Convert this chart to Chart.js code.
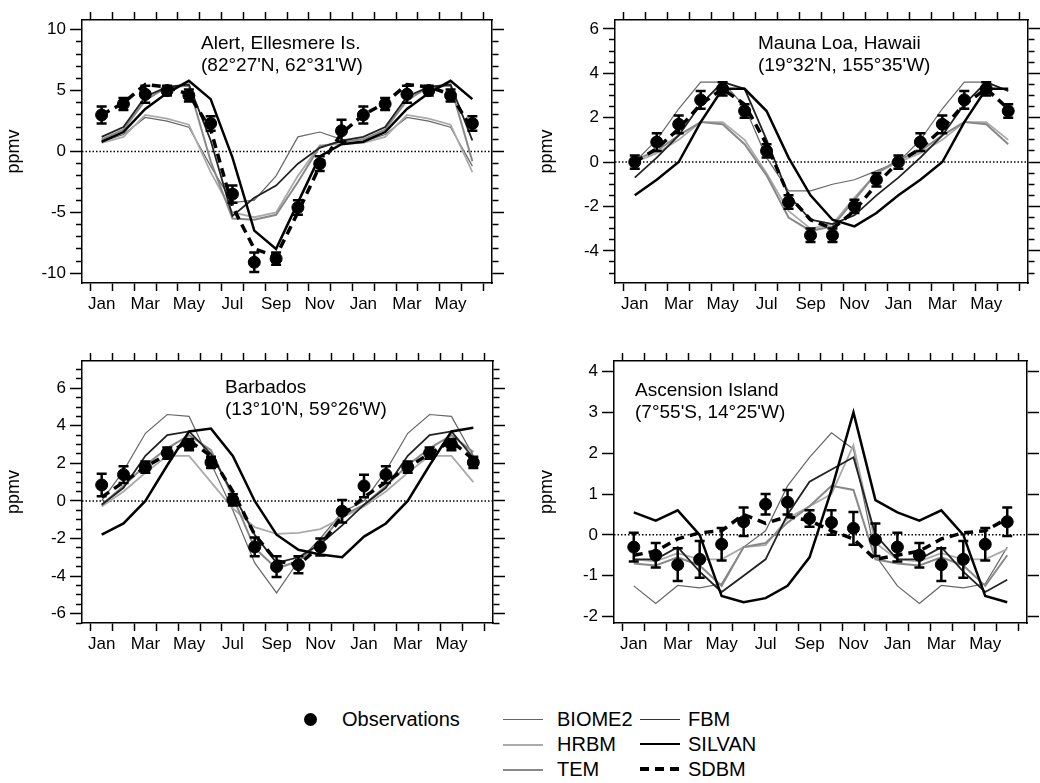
<!DOCTYPE html>
<html>
<head>
<meta charset="utf-8">
<script src="https://cdn.jsdelivr.net/npm/chart.js@4.4.1/dist/chart.umd.min.js"></script>
<style>
  body { margin: 0; width: 1040px; height: 783px; position: relative; overflow: hidden; background: #fff;
         font-family: "Liberation Sans", Arial, Helvetica, sans-serif; color: #000; }
  .panel { position: absolute; width: 520px; height: 320px; }
  .site { position: absolute; font-size: 19px; line-height: 22px; white-space: nowrap; }
  .key { position: absolute; font-size: 20px; line-height: 24px; white-space: nowrap; }
  .swatch { position: absolute; width: 40px; }
  .dot { position: absolute; width: 13px; height: 13px; border-radius: 50%; background: #000; }
</style>
</head>
<body>

<div class="panel" style="left:0;top:0"><canvas id="alert"></canvas></div>
<div class="panel" style="left:520px;top:0"><canvas id="mauna"></canvas></div>
<div class="panel" style="left:0;top:340px"><canvas id="barbados"></canvas></div>
<div class="panel" style="left:520px;top:340px"><canvas id="ascension"></canvas></div>

<div class="site" style="left:201px;top:32px">Alert, Ellesmere Is.<br>(82°27'N, 62°31'W)</div>
<div class="site" style="left:758px;top:32px">Mauna Loa, Hawaii<br>(19°32'N, 155°35'W)</div>
<div class="site" style="left:225px;top:376px">Barbados<br>(13°10'N, 59°26'W)</div>
<div class="site" style="left:635px;top:379px">Ascension Island<br>(7°55'S, 14°25'W)</div>

<!-- legend -->
<div class="dot" style="left:304px;top:713px"></div>
<div class="key" style="left:342px;top:707px">Observations</div>
<div class="swatch" style="left:503px;top:719px;border-top:1.5px solid #666"></div>
<div class="key" style="left:557px;top:707px">BIOME2</div>
<div class="swatch" style="left:503px;top:744px;border-top:2px solid #aaa"></div>
<div class="key" style="left:557px;top:732px">HRBM</div>
<div class="swatch" style="left:503px;top:769px;border-top:2px solid #888"></div>
<div class="key" style="left:557px;top:757px">TEM</div>
<div class="swatch" style="left:640px;top:719px;border-top:1.5px solid #333"></div>
<div class="key" style="left:688px;top:707px">FBM</div>
<div class="swatch" style="left:640px;top:743px;border-top:2.5px solid #000"></div>
<div class="key" style="left:688px;top:732px">SILVAN</div>
<div class="swatch" style="left:640px;top:767px;height:3.5px;background:repeating-linear-gradient(90deg,#000 0 9px,transparent 9px 15px)"></div>
<div class="key" style="left:688px;top:757px">SDBM</div>

<script>
// Seasonal CO2 cycle, 18 months (Jan .. Jun of the following year)
const months = ['Jan', 'Feb', 'Mar', 'Apr', 'May', 'Jun', 'Jul', 'Aug', 'Sep', 'Oct', 'Nov', 'Dec',
                'Jan', 'Feb', 'Mar', 'Apr', 'May', 'Jun'];

// Alert, Ellesmere Is.
const alertObs    = [3.0, 3.9, 4.7, 5.0, 4.6, 2.3, -3.5, -9.1, -8.8, -4.6, -1.0, 1.7, 3.0, 3.9, 4.7, 5.0, 4.6, 2.3];
const alertErr    = [0.7, 0.5, 0.7, 0.4, 0.5, 0.6, 0.7, 0.8, 0.5, 0.6, 0.6, 0.9, 0.7, 0.5, 0.7, 0.4, 0.5, 0.6];
const alertBiome2 = [0.8, 1.4, 2.8, 2.5, 2.0, -1.2, -4.2, -4.0, -2.0, 1.2, 1.6, 1.0, 0.8, 1.4, 2.8, 2.5, 2.0, -1.2];
const alertHrbm   = [0.7, 1.2, 3.0, 2.7, 2.2, -1.7, -5.0, -5.4, -5.0, -2.0, 0.5, 0.6, 0.7, 1.2, 3.0, 2.7, 2.2, -1.7];
const alertTem    = [1.0, 1.8, 4.2, 5.3, 5.4, -0.8, -5.5, -5.6, -5.2, -2.5, 0.4, 0.8, 1.0, 1.8, 4.2, 5.3, 5.4, -0.8];
const alertFbm    = [1.2, 2.0, 4.5, 5.3, 5.5, 0.9, -5.3, -3.8, -2.8, -1.0, 0.3, 0.9, 1.2, 2.0, 4.5, 5.3, 5.5, 0.9];
const alertSilvan = [0.8, 1.6, 3.5, 4.8, 5.8, 4.3, -0.5, -6.5, -8.0, -4.2, -0.4, 0.6, 0.8, 1.6, 3.5, 4.8, 5.8, 4.3];
const alertSdbm   = [3.0, 4.0, 5.5, 5.3, 4.7, 1.8, -4.5, -8.0, -8.6, -5.0, -1.2, 1.5, 3.0, 4.0, 5.5, 5.3, 4.7, 1.8];

// Mauna Loa, Hawaii
const maunaObs    = [0.0, 0.9, 1.7, 2.8, 3.3, 2.3, 0.5, -1.8, -3.3, -3.3, -2.0, -0.8, 0.0, 0.9, 1.7, 2.8, 3.3, 2.3];
const maunaErr    = [0.3, 0.4, 0.4, 0.4, 0.3, 0.3, 0.3, 0.3, 0.3, 0.3, 0.3, 0.3, 0.3, 0.4, 0.4, 0.4, 0.3, 0.3];
const maunaBiome2 = [0.0, 1.0, 2.4, 3.6, 3.6, 2.5, 0.2, -1.3, -1.3, -1.0, -0.8, -0.4, 0.0, 1.0, 2.4, 3.6, 3.6, 3.2];
const maunaHrbm   = [0.0, 0.4, 1.0, 1.8, 1.8, 1.0, -0.5, -2.2, -3.0, -2.8, -1.6, -0.5, 0.0, 0.4, 1.0, 1.8, 1.8, 1.0];
const maunaTem    = [0.1, 0.5, 1.2, 1.8, 1.7, 0.8, -0.6, -2.5, -3.1, -2.9, -1.7, -0.5, 0.1, 0.5, 1.2, 1.8, 1.7, 0.8];
const maunaFbm    = [-0.7, 0.2, 1.2, 2.6, 3.6, 3.3, 1.0, -1.5, -2.6, -2.8, -2.4, -1.5, -0.7, 0.2, 1.2, 2.6, 3.6, 3.2];
const maunaSilvan = [-1.5, -0.8, 0.0, 1.8, 3.3, 3.3, 2.3, 0.2, -1.5, -2.6, -2.9, -2.3, -1.5, -0.8, 0.0, 1.8, 3.3, 3.3];
const maunaSdbm   = [0.0, 0.6, 1.5, 2.6, 3.3, 2.6, 0.8, -1.5, -2.6, -3.0, -2.2, -1.0, 0.0, 0.6, 1.5, 2.6, 3.3, 2.4];

// Barbados
const barbObs    = [0.85, 1.4, 1.8, 2.55, 3.0, 2.05, 0.05, -2.45, -3.5, -3.4, -2.45, -0.55, 0.8, 1.4, 1.8, 2.55, 3.0, 2.05];
const barbErr    = [0.6, 0.45, 0.3, 0.3, 0.3, 0.3, 0.3, 0.5, 0.55, 0.45, 0.45, 0.6, 0.6, 0.45, 0.3, 0.3, 0.3, 0.3];
const barbBiome2 = [0.0, 1.6, 3.6, 4.6, 4.5, 2.0, -0.5, -3.3, -4.9, -3.2, -2.0, -0.6, 0.0, 1.6, 3.6, 4.6, 4.5, 2.4];
const barbHrbm   = [-0.3, 0.5, 1.5, 2.4, 2.4, 1.0, -0.4, -1.4, -1.75, -1.7, -1.5, -0.9, -0.3, 0.5, 1.5, 2.4, 2.4, 1.0];
const barbTem    = [-0.2, 0.8, 1.9, 2.8, 3.5, 2.7, 0.2, -2.5, -3.6, -3.2, -2.2, -0.8, -0.2, 0.8, 1.9, 2.8, 3.5, 2.6];
const barbFbm    = [-0.2, 0.7, 2.4, 3.5, 3.7, 2.5, 0.4, -1.8, -3.3, -3.0, -2.3, -1.3, -0.2, 0.7, 2.4, 3.5, 3.7, 2.3];
const barbSilvan = [-1.8, -1.2, 0.0, 1.9, 3.7, 3.85, 2.4, 0.0, -1.8, -2.6, -2.85, -3.0, -1.9, -1.2, 0.0, 1.9, 3.7, 3.9];
const barbSdbm   = [0.2, 1.0, 1.8, 2.5, 3.2, 2.4, 0.5, -1.8, -3.2, -3.4, -2.4, -0.8, 0.2, 1.0, 1.8, 2.5, 3.2, 2.2];

// Ascension Island
const ascObs    = [-0.3, -0.5, -0.73, -0.6, -0.23, 0.32, 0.75, 0.8, 0.4, 0.3, 0.16, -0.12, -0.3, -0.5, -0.73, -0.6, -0.23, 0.32];
const ascErr    = [0.35, 0.3, 0.4, 0.45, 0.4, 0.35, 0.25, 0.3, 0.2, 0.3, 0.4, 0.4, 0.35, 0.3, 0.4, 0.45, 0.4, 0.35];
const ascBiome2 = [-1.25, -1.68, -1.24, -1.3, -1.2, -0.3, 0.1, 1.2, 1.9, 2.5, 2.1, -0.5, -1.25, -1.68, -1.24, -1.3, -1.2, -0.3];
const ascHrbm   = [-0.6, -0.65, -0.45, -0.6, -0.6, -0.3, -0.25, 0.4, 0.7, 1.0, 2.2, -0.2, -0.6, -0.65, -0.45, -0.6, -0.6, -0.35];
const ascTem    = [-0.7, -0.75, -0.55, -0.75, -1.25, -0.3, -0.2, 0.3, 0.7, 1.2, 1.1, -0.6, -0.7, -0.75, -0.55, -0.75, -1.25, -0.5];
const ascFbm    = [-0.6, -0.6, -0.3, -0.9, -1.4, -1.0, -0.6, 0.5, 1.3, 1.6, 1.9, 0.0, -0.6, -0.6, -0.3, -0.9, -1.4, -1.1];
const ascSilvan = [0.55, 0.35, 0.6, 0.0, -1.5, -1.65, -1.55, -1.25, -0.55, 1.1, 3.0, 0.85, 0.55, 0.35, 0.6, 0.0, -1.5, -1.65];
const ascSdbm   = [-0.5, -0.4, -0.1, 0.05, 0.1, 0.5, 0.28, 0.45, 0.35, 0.1, -0.1, -0.6, -0.5, -0.4, -0.1, 0.05, 0.1, 0.4];

const X_MIN = -0.9, X_MAX = 17.9;
const FONT = { family: '"Liberation Sans", Arial, sans-serif', size: 17 };

// error bars for the observations, drawn just before the markers
const errorBars = {
    id: 'errorBars',
    beforeDatasetDraw(chart, args) {
        const ds = chart.data.datasets[args.index];
        if (!ds.errors) return;
        const ctx = chart.ctx, xs = chart.scales.x, ys = chart.scales.y;
        ctx.save();
        ctx.strokeStyle = '#000';
        ctx.lineWidth = 2.5;
        ds.data.forEach(function (p, i) {
            const x = xs.getPixelForValue(p.x);
            const lo = ys.getPixelForValue(p.y - ds.errors[i]);
            const hi = ys.getPixelForValue(p.y + ds.errors[i]);
            ctx.beginPath();
            ctx.moveTo(x, lo); ctx.lineTo(x, hi);
            ctx.moveTo(x - 5, lo); ctx.lineTo(x + 5, lo);
            ctx.moveTo(x - 5, hi); ctx.lineTo(x + 5, hi);
            ctx.stroke();
        });
        ctx.restore();
    }
};

function pts(values) {
    return values.map(function (v, i) { return { x: i, y: v }; });
}

function makePanel(id, p) {
    const xTicks = [];
    for (let v = -0.5; v <= 17.5; v += 0.5) xTicks.push(v);
    const yTicks = [];
    for (let v = Math.ceil(p.yMin / p.step) * p.step; v <= p.yMax + 1e-9; v += p.step) yTicks.push(Math.round(v * 100) / 100);
    const isMajor = v => Math.abs(v / p.major - Math.round(v / p.major)) < 1e-6;

    const xAxis = (pos, size) => ({
        type: 'linear', position: pos, min: X_MIN, max: X_MAX,
        afterBuildTicks: s => { s.ticks = xTicks.map(v => ({ value: v })); },
        afterFit: s => { s.height = size; },
        grid: { drawOnChartArea: false, tickLength: 8, tickWidth: 1.5,
                tickColor: c => Number.isInteger(c.tick.value) ? 'rgba(0,0,0,0)' : '#000' },
        border: { color: '#000', width: 1.5 },
        ticks: { display: pos === 'bottom', autoSkip: false, maxRotation: 0, padding: 3, color: '#000', font: FONT,
                 callback: v => (Number.isInteger(v) && v % 2 === 0) ? months[v] : '' }
    });
    const yAxis = (pos, size) => ({
        type: 'linear', position: pos, min: p.yMin, max: p.yMax,
        afterBuildTicks: s => { s.ticks = yTicks.map(v => ({ value: v })); },
        afterFit: s => { s.width = size; },
        grid: { drawOnChartArea: false, tickLength: 12, tickWidth: 1.5, tickColor: '#000',
                tickBorderDash: c => isMajor(c.tick.value) ? [] : (pos === 'left' ? [0, 6, 6, 40] : [6, 40]) },
        border: { color: '#000', width: 1.5 },
        ticks: { display: pos === 'left', autoSkip: false, padding: 4, color: '#000', font: FONT,
                 callback: v => isMajor(v) ? String(v) : '' },
        title: { display: pos === 'left', text: 'ppmv', color: '#000', font: { family: FONT.family, size: 18 },
                 padding: { top: p.titlePad, bottom: 0 } }
    });

    const line = (label, values, color, width, order, dash) => ({
        type: 'line', label: label, data: pts(values), borderColor: color, borderWidth: width,
        borderDash: dash || [], pointRadius: 0, tension: 0, fill: false, order: order
    });

    const chartData = {
        datasets: [
            { type: 'line', label: 'Observations', data: pts(p.obs), errors: p.err, showLine: false,
              pointRadius: 6, pointBackgroundColor: '#000', pointBorderColor: '#000', order: 0 },
            line('SDBM', p.sdbm, '#000', 3.5, 1, [9, 6]),
            line('SILVAN', p.silvan, '#000', 2.5, 2),
            line('FBM', p.fbm, '#222', 1.8, 3),
            line('TEM', p.tem, '#888', 2, 4),
            line('HRBM', p.hrbm, '#aaa', 1.8, 5),
            line('BIOME2', p.biome2, '#666', 1.2, 6),
            line('zero', [], '#000', 1.5, 7, [1.5, 2])
        ]
    };
    // the zero reference line spans the full x range
    chartData.datasets[7].data = [{ x: X_MIN, y: 0 }, { x: X_MAX, y: 0 }];

    return new Chart(document.getElementById(id), {
        type: 'line',
        data: chartData,
        options: {
            responsive: true,
            maintainAspectRatio: false,
            animation: false,
            layout: { padding: 0 },
            plugins: { legend: { display: false }, tooltip: { enabled: false } },
            scales: {
                x: xAxis('bottom', p.bottomH),
                xTop: xAxis('top', p.topH),
                y: yAxis('left', p.leftW),
                yRight: yAxis('right', p.rightW)
            }
        },
        plugins: [errorBars]
    });
}

makePanel('alert', { yMin: -10.8, yMax: 10.8, step: 1, major: 5, leftW: 82, rightW: 28, topH: 20, bottomH: 37, titlePad: 3,
    obs: alertObs, err: alertErr, biome2: alertBiome2, hrbm: alertHrbm, tem: alertTem, fbm: alertFbm, silvan: alertSilvan, sdbm: alertSdbm });
makePanel('mauna', { yMin: -5.45, yMax: 6.4, step: 0.5, major: 2, leftW: 95, rightW: 12, topH: 20, bottomH: 37, titlePad: 16,
    obs: maunaObs, err: maunaErr, biome2: maunaBiome2, hrbm: maunaHrbm, tem: maunaTem, fbm: maunaFbm, silvan: maunaSilvan, sdbm: maunaSdbm });
makePanel('barbados', { yMin: -6.5, yMax: 7.45, step: 0.5, major: 2, leftW: 82, rightW: 27, topH: 21, bottomH: 37, titlePad: 3,
    obs: barbObs, err: barbErr, biome2: barbBiome2, hrbm: barbHrbm, tem: barbTem, fbm: barbFbm, silvan: barbSilvan, sdbm: barbSdbm });
makePanel('ascension', { yMin: -2.16, yMax: 4.26, step: 1, major: 1, leftW: 94, rightW: 13, topH: 21, bottomH: 37, titlePad: 16,
    obs: ascObs, err: ascErr, biome2: ascBiome2, hrbm: ascHrbm, tem: ascTem, fbm: ascFbm, silvan: ascSilvan, sdbm: ascSdbm });
</script>
</body>
</html>
